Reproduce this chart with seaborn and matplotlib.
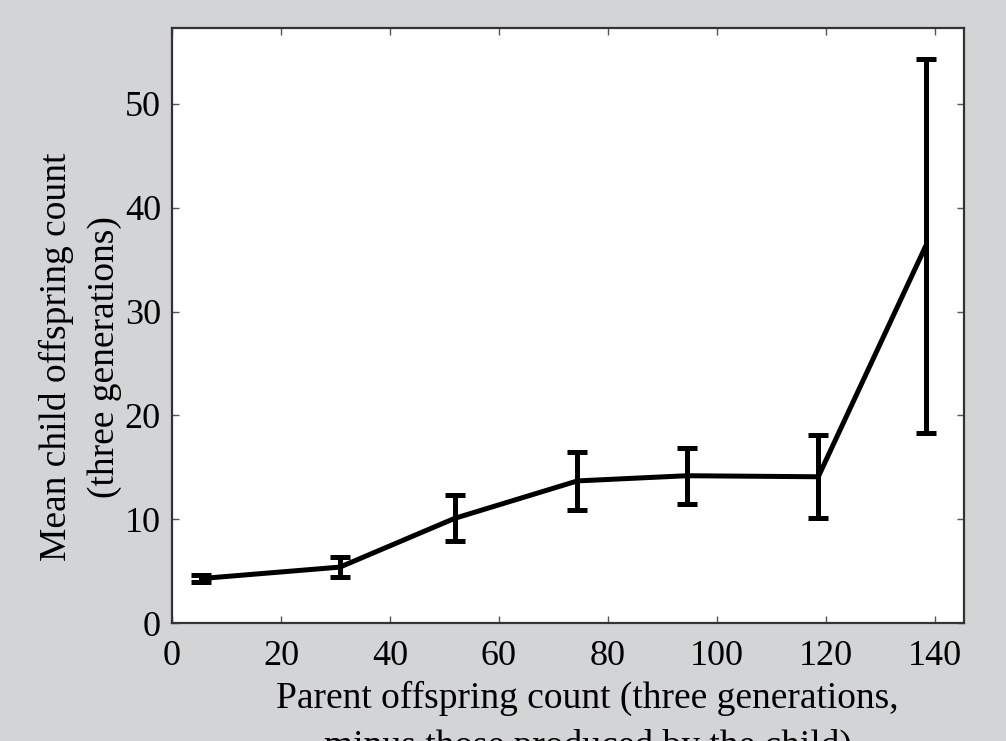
import numpy as np
import pandas as pd
import seaborn as sns
import matplotlib
matplotlib.use("Agg")
import matplotlib.pyplot as plt

# values
parent_count = [5.4, 30.8, 51.9, 74.4, 94.5, 118.6, 138.3]
child_mean = [4.3, 5.4, 10.1, 13.7, 14.2, 14.1, 36.3]
child_err = [0.3, 0.95, 2.2, 2.8, 2.7, 4.0, 18.0]
x_ticks = [0, 20, 40, 60, 80, 100, 120, 140]
y_ticks = [0, 10, 20, 30, 40, 50]

df = pd.DataFrame({"parent": parent_count, "child": child_mean, "err": child_err})

sns.set_theme(style="ticks")
plt.rcParams["font.family"] = ["Liberation Serif", "DejaVu Serif"]
plt.rcParams["text.color"] = "black"
plt.rcParams["axes.labelcolor"] = "black"
plt.rcParams["xtick.labelcolor"] = "black"
plt.rcParams["ytick.labelcolor"] = "black"

bg = "#d3d4d6"
fig = plt.figure(figsize=(10.06, 7.41), dpi=100, facecolor=bg)
ax = fig.add_axes([0.171, 0.159, 0.787, 0.803])
ax.set_facecolor("white")

sns.lineplot(data=df, x="parent", y="child", ax=ax, color="black",
             linewidth=3.6, sort=False)
ax.errorbar(df["parent"], df["child"], yerr=df["err"], fmt="none",
            ecolor="black", elinewidth=3.6, capsize=7, capthick=3.6)

ax.set_xlim(0, 145.3)
ax.set_ylim(0, 57.3)
ax.set_xticks(x_ticks)
ax.set_yticks(y_ticks)

ax.tick_params(direction="in", length=5, width=1, color="#555555",
               top=True, right=True, labelsize=26)
ax.tick_params(axis="x", pad=12)
ax.tick_params(axis="y", pad=8)
for s in ax.spines.values():
    s.set_color("#333333")
    s.set_linewidth(1.6)

ax.set_xlabel("Parent offspring count (three generations,\nminus those produced by the child)",
              fontsize=27, linespacing=1.5)
ax.set_ylabel("Mean child offspring count\n(three generations)",
              fontsize=27, linespacing=1.5)
ax.xaxis.set_label_coords(0.525, -0.0965)
ax.yaxis.set_label_coords(-0.063, 0.447)

fig.savefig("out.png", dpi=100, facecolor=bg)
